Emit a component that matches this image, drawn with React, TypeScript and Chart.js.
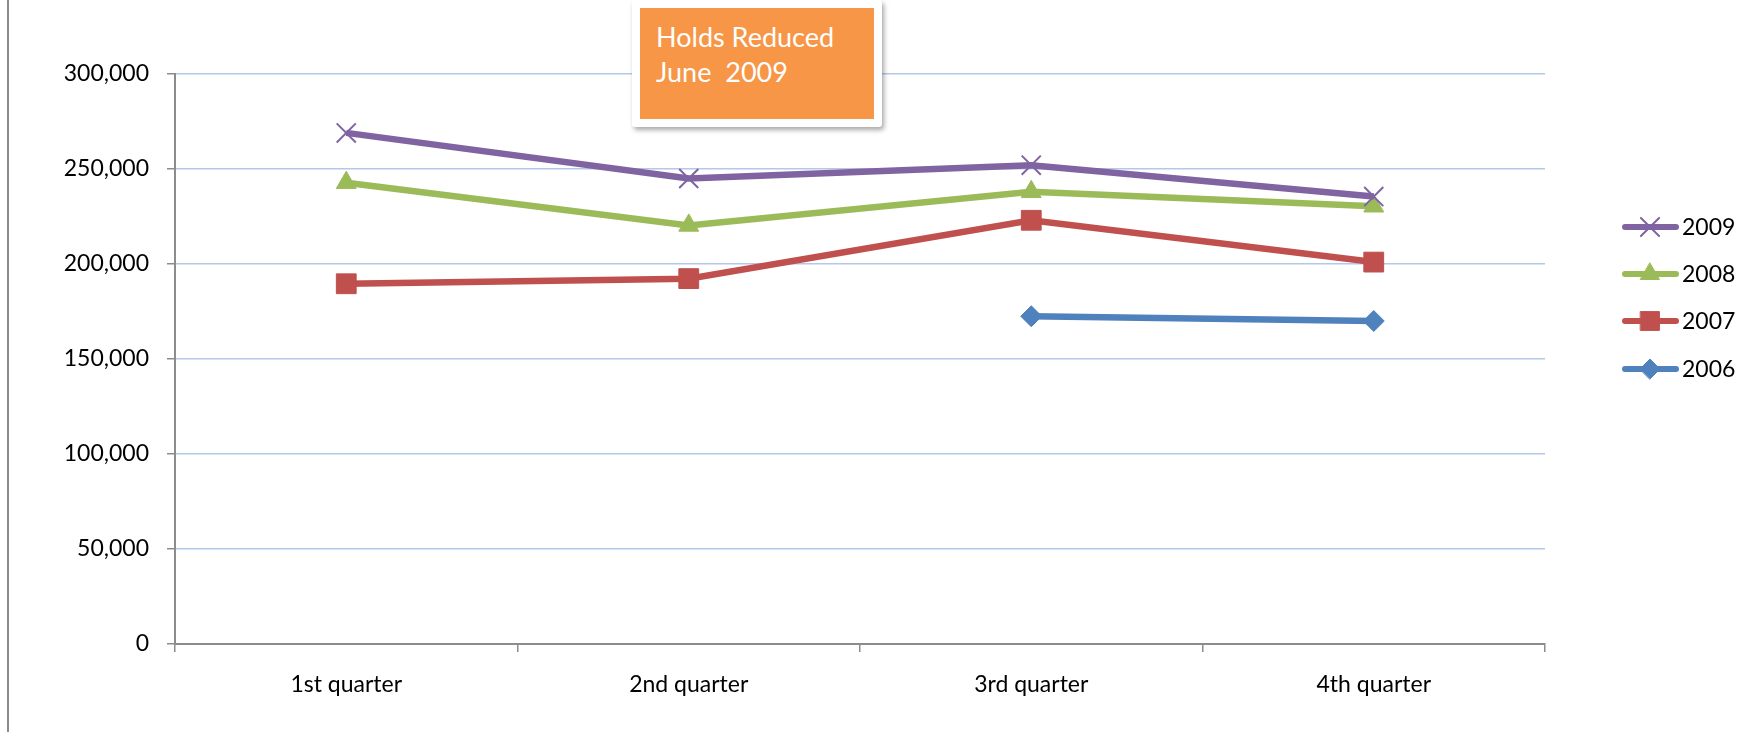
import React, { useEffect, useRef } from "react";
import { Chart, registerables } from "chart.js";
import { drawPoint } from "chart.js/helpers";

Chart.register(...registerables);

const categories = ["1st quarter", "2nd quarter", "3rd quarter", "4th quarter"];
const yearLabels = ["2009", "2008", "2007", "2006"];
const values2009 = [269000, 245000, 252000, 235500];
const values2008 = [242800, 220300, 238000, 230400];
const values2007 = [189600, 192300, 223000, 201000];
const values2006 = [null, null, 172500, 170000];
const yTicks = [0, 50000, 100000, 150000, 200000, 250000, 300000];

const FONT = "Lato, 'Open Sans', sans-serif";

const legendPlugin = {
  id: "sideLegend",
  afterDraw(chart: any) {
    const ctx = chart.ctx;
    const ys = [227, 274, 321, 369];
    chart.data.datasets.forEach((ds: any, i: number) => {
      const y = ys[i];
      ctx.save();
      ctx.strokeStyle = ds.borderColor;
      ctx.lineWidth = 6;
      ctx.lineCap = "round";
      ctx.beginPath();
      ctx.moveTo(1625, y);
      ctx.lineTo(1676, y);
      ctx.stroke();
      ctx.fillStyle = ds.pointBackgroundColor;
      ctx.strokeStyle = ds.pointBorderColor;
      ctx.lineWidth = ds.pointBorderWidth;
      drawPoint(ctx, { pointStyle: ds.pointStyle, radius: ds.pointRadius * 0.95, rotation: 0, borderWidth: ds.pointBorderWidth } as any, 1650, y);
      ctx.fillStyle = "#000";
      ctx.font = `23px ${FONT}`;
      ctx.textBaseline = "middle";
      ctx.textAlign = "left";
      ctx.fillText(ds.label, 1682, y + 1);
      ctx.restore();
    });
  },
};

export default function App() {
  const ref = useRef<HTMLCanvasElement>(null);
  useEffect(() => {
    const mk = (label: string, data: any[], color: string, style: string, r: number, bw: number) => ({
      label,
      data,
      borderColor: color,
      backgroundColor: color,
      borderWidth: 6.5,
      pointStyle: style,
      pointRadius: r,
      pointBackgroundColor: color,
      pointBorderColor: color,
      pointBorderWidth: bw,
      tension: 0,
    });
    const chart = new Chart(ref.current!, {
      type: "line",
      data: {
        labels: categories,
        datasets: [
          mk(yearLabels[0], values2009, "#8064A2", "crossRot", 13.5, 2),
          mk(yearLabels[1], values2008, "#9BBB59", "triangle", 11.5, 1),
          mk(yearLabels[2], values2007, "#C0504D", "rect", 14, 1),
          mk(yearLabels[3], values2006, "#4F81BD", "rectRot", 10.5, 1),
        ],
      },
      options: {
        animation: false,
        responsive: false,
        maintainAspectRatio: false,
        layout: { padding: { left: 0, top: 74, right: 215, bottom: 0 } },
        plugins: { legend: { display: false }, tooltip: { enabled: false } },
        scales: {
          x: {
            offset: true,
            grid: {
              offset: true,
              drawOnChartArea: false,
              drawTicks: true,
              tickLength: 8,
              tickColor: "#8c8c8c",
              lineWidth: 1.5,
            },
            border: { color: "#8c8c8c", width: 2 },
            ticks: { color: "#000", font: { family: FONT, size: 23 }, padding: 19, maxRotation: 0 },
            afterFit(scale: any) {
              scale.height = 88;
            },
          },
          y: {
            min: 0,
            max: 300000,
            afterBuildTicks(scale: any) {
              scale.ticks = yTicks.map((v) => ({ value: v }));
            },
            grid: {
              color: (c: any) => (c.tick && c.tick.value === 0 ? "rgba(0,0,0,0)" : "#b4c8e8"),
              lineWidth: 1.5,
              tickLength: 8,
              tickColor: "#8c8c8c",
            },
            border: { color: "#8c8c8c", width: 2 },
            ticks: {
              color: "#000",
              font: { family: FONT, size: 23 },
              padding: 18,
              callback: (v: any) => Number(v).toLocaleString("en-US"),
            },
            afterFit(scale: any) {
              scale.width = 175;
            },
          },
        },
      },
      plugins: [legendPlugin],
    });
    return () => chart.destroy();
  }, []);

  return (
    <div style={{ position: "fixed", left: 0, top: 0, width: 1760, height: 732, background: "#fff", overflow: "hidden" }}>
      <canvas ref={ref} width={1760} height={732} style={{ position: "absolute", left: 0, top: 0, width: 1760, height: 732 }} />
      <div style={{ position: "absolute", left: 7, top: 0, width: 2, height: 732, background: "#8a8a8a" }} />
      <div
        style={{
          position: "absolute",
          left: 632,
          top: 0,
          width: 250,
          height: 127,
          background: "#fff",
          borderRadius: 3,
          boxShadow: "2px 3px 5px rgba(0,0,0,0.35)",
        }}
      >
        <div
          style={{
            position: "absolute",
            left: 8,
            top: 8,
            width: 234,
            height: 111,
            background: "#F79646",
            color: "#fff",
            fontFamily: FONT,
            fontSize: 27,
            lineHeight: "35px",
            paddingLeft: 16,
            paddingTop: 11,
            boxSizing: "border-box",
          }}
        >
          Holds Reduced
          <br />
          June&nbsp; 2009
        </div>
      </div>
    </div>
  );
}
